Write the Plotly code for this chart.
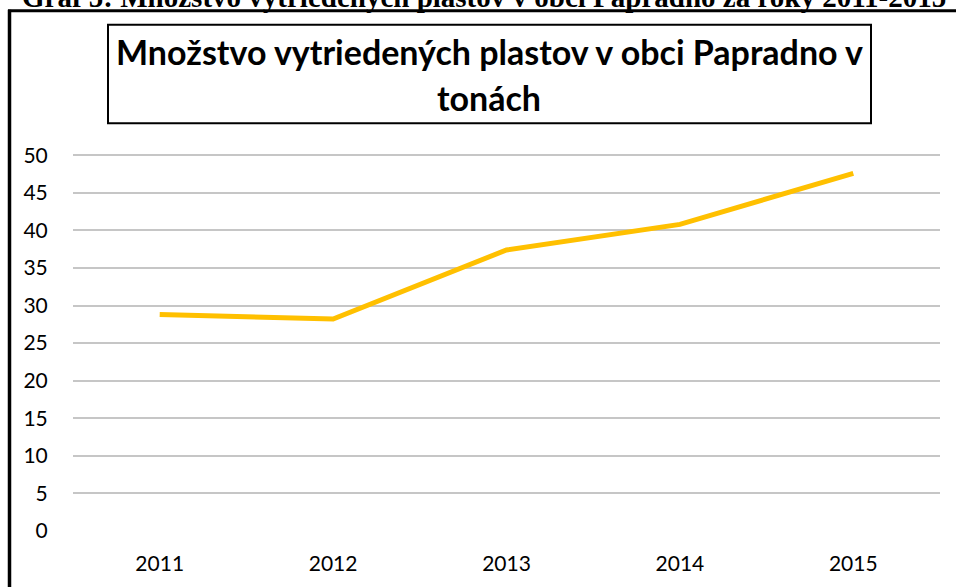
import plotly.graph_objects as go

years = ["2011", "2012", "2013", "2014", "2015"]
plastics_t = [28.8, 28.2, 37.4, 40.8, 47.6]
y_ticks = [0, 5, 10, 15, 20, 25, 30, 35, 40, 45, 50]

title_line1 = "Množstvo vytriedených plastov v obci Papradno v"
title_line2 = "tonách"
caption = "Graf 5: Množstvo vytriedených plastov v obci Papradno za roky 2011-2015"

W, H = 956, 587
ML, MR, MT, MB = 73, 16, 153, 54
PW, PH = W - ML - MR, H - MT - MB


def px(x):
    return (x - ML) / PW


def py(y):
    return 1 - (y - MT) / PH


fig = go.Figure()
fig.add_trace(go.Scatter(
    x=years, y=plastics_t, mode="lines",
    line=dict(color="#FFC000", width=5),
    hoverinfo="x+y", showlegend=False,
))

FONT = "Lato, Open Sans, sans-serif"

fig.update_layout(
    width=W, height=H,
    margin=dict(l=ML, r=MR, t=MT, b=MB),
    paper_bgcolor="white", plot_bgcolor="white",
    font=dict(family=FONT, color="#000000", size=21),
    xaxis=dict(
        type="category", range=[-0.5, 4.5], showgrid=False, zeroline=False,
        showline=False,
        ticks="outside", ticklen=14, tickcolor="rgba(0,0,0,0)",
        tickfont=dict(size=21, family=FONT, color="#000000"),
    ),
    yaxis=dict(
        range=[0, 50.3], tickvals=y_ticks, showgrid=True,
        gridcolor="#c6c6c6", gridwidth=2, zeroline=False,
        showline=False,
        ticks="outside", ticklen=20, tickcolor="rgba(0,0,0,0)",
        tickfont=dict(size=21, family=FONT, color="#000000"),
    ),
    shapes=[
        # outer frame (top and left borders)
        dict(type="line", xref="paper", yref="paper",
             x0=px(8), x1=px(960), y0=py(10), y1=py(10),
             line=dict(color="black", width=3)),
        dict(type="line", xref="paper", yref="paper",
             x0=px(9.5), x1=px(9.5), y0=py(9), y1=py(600),
             line=dict(color="black", width=3.5)),
        # title box
        dict(type="rect", xref="paper", yref="paper",
             x0=px(108), x1=px(871), y0=py(24), y1=py(123),
             line=dict(color="black", width=2), fillcolor="white",
             layer="below"),
    ],
    annotations=[
        dict(text="<b>" + caption + "</b>", xref="paper", yref="paper",
             x=px(20), y=py(-4), xanchor="left", yanchor="middle",
             showarrow=False,
             font=dict(family="Liberation Serif, Times New Roman, serif",
                       size=29, color="black"),
             ),
        dict(text="<b>" + title_line1 + "</b>", xref="paper", yref="paper",
             x=px(489), y=py(51), xanchor="center", yanchor="middle",
             showarrow=False, font=dict(family=FONT, size=34, color="black")),
        dict(text="<b>" + title_line2 + "</b>", xref="paper", yref="paper",
             x=px(489), y=py(97), xanchor="center", yanchor="middle",
             showarrow=False, font=dict(family=FONT, size=34, color="black")),
    ],
)

fig.write_html(
    "out.html",
    config={"displayModeBar": False},
    post_script="document.body.style.margin='0';document.body.style.overflow='hidden';",
)
